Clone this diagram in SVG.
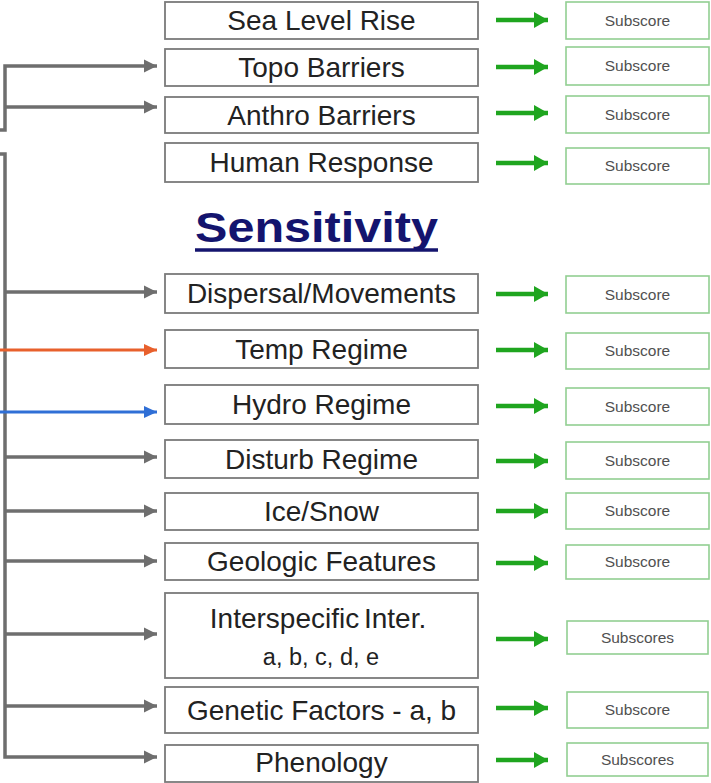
<svg xmlns="http://www.w3.org/2000/svg" width="711" height="783" viewBox="0 0 711 783">
<defs>
<style>
.box{fill:#fff;stroke:#7a7a7a;stroke-width:1.8}
.sbox{fill:#fff;stroke:#92cf92;stroke-width:1.6}
.lbl{font-family:"Liberation Sans",Arial,sans-serif;font-size:28px;fill:#222;text-anchor:middle}
.sm{font-size:23.5px}
.sub{font-family:"Liberation Sans",Arial,sans-serif;font-size:15.5px;fill:#505050;text-anchor:middle}
.g{fill:none;stroke:#6e6e6e;stroke-width:3.5}
.ga{stroke:#1fa51f;stroke-width:4.5;fill:none}
</style>
<marker id="ah" markerUnits="userSpaceOnUse" markerWidth="14" markerHeight="14" refX="13" refY="7" orient="auto"><path d="M0,0.5 L13,7 L0,13.5 Z" fill="#6e6e6e"/></marker>
<marker id="ahO" markerUnits="userSpaceOnUse" markerWidth="14" markerHeight="12" refX="13" refY="6" orient="auto"><path d="M0,0 L13,6 L0,12 Z" fill="#e8602c"/></marker>
<marker id="ahB" markerUnits="userSpaceOnUse" markerWidth="14" markerHeight="12" refX="13" refY="6" orient="auto"><path d="M0,0 L13,6 L0,12 Z" fill="#2f6fd6"/></marker>
<marker id="ahG" markerUnits="userSpaceOnUse" markerWidth="15" markerHeight="16" refX="14" refY="8" orient="auto"><path d="M0,0 L14,8 L0,16 Z" fill="#1fa51f"/></marker>
</defs>

<g id="connectors">
<path class="g" d="M0,130 H5 V66 H157" marker-end="url(#ah)"/>
<path class="g" d="M5,107 H157" marker-end="url(#ah)"/>
<path class="g" d="M0,154 H5 V757 H157" marker-end="url(#ah)"/>
<path class="g" d="M5,292 H157" marker-end="url(#ah)"/>
<path class="g" d="M5,457 H157" marker-end="url(#ah)"/>
<path class="g" d="M5,511 H157" marker-end="url(#ah)"/>
<path class="g" d="M5,561 H157" marker-end="url(#ah)"/>
<path class="g" d="M5,634 H157" marker-end="url(#ah)"/>
<path class="g" d="M5,706 H157" marker-end="url(#ah)"/>
<path d="M0,350 H157" fill="none" stroke="#e8602c" stroke-width="3" marker-end="url(#ahO)"/>
<path d="M0,412 H157" fill="none" stroke="#2f6fd6" stroke-width="3" marker-end="url(#ahB)"/>
<path class="ga" d="M496,20 H548" marker-end="url(#ahG)"/>
<path class="ga" d="M496,67 H548" marker-end="url(#ahG)"/>
<path class="ga" d="M496,113 H548" marker-end="url(#ahG)"/>
<path class="ga" d="M496,163 H548" marker-end="url(#ahG)"/>
<path class="ga" d="M496,294 H548" marker-end="url(#ahG)"/>
<path class="ga" d="M496,350 H548" marker-end="url(#ahG)"/>
<path class="ga" d="M496,406 H548" marker-end="url(#ahG)"/>
<path class="ga" d="M496,461 H548" marker-end="url(#ahG)"/>
<path class="ga" d="M496,511 H548" marker-end="url(#ahG)"/>
<path class="ga" d="M496,563 H548" marker-end="url(#ahG)"/>
<path class="ga" d="M496,639 H548" marker-end="url(#ahG)"/>
<path class="ga" d="M496,708 H548" marker-end="url(#ahG)"/>
<path class="ga" d="M496,760 H548" marker-end="url(#ahG)"/>
</g>

<g id="title">
<text x="316.5" y="242" font-family="'Liberation Sans',Arial,sans-serif" font-weight="bold" font-size="42" fill="#14146e" text-anchor="middle" textLength="243" lengthAdjust="spacingAndGlyphs">Sensitivity</text>
<line x1="195" y1="250" x2="438" y2="250" stroke="#14146e" stroke-width="3.5"/>
</g>

<g id="n-sea"><rect class="box" x="165" y="2" width="313" height="37"/><text class="lbl" x="321.5" y="30">Sea Level Rise</text></g>
<g id="n-topo"><rect class="box" x="165" y="49" width="313" height="37"/><text class="lbl" x="321.5" y="77">Topo Barriers</text></g>
<g id="n-anthro"><rect class="box" x="165" y="97" width="313" height="36"/><text class="lbl" x="321.5" y="125">Anthro Barriers</text></g>
<g id="n-human"><rect class="box" x="165" y="143" width="313" height="39"/><text class="lbl" x="321.5" y="172">Human Response</text></g>
<g id="n-dispersal"><rect class="box" x="165" y="274" width="313" height="39"/><text class="lbl" x="321.5" y="303">Dispersal/Movements</text></g>
<g id="n-temp"><rect class="box" x="165" y="330" width="313" height="38"/><text class="lbl" x="321.5" y="359">Temp Regime</text></g>
<g id="n-hydro"><rect class="box" x="165" y="385" width="313" height="39"/><text class="lbl" x="321.5" y="414">Hydro Regime</text></g>
<g id="n-disturb"><rect class="box" x="165" y="440" width="313" height="38"/><text class="lbl" x="321.5" y="469">Disturb Regime</text></g>
<g id="n-ice"><rect class="box" x="165" y="493" width="313" height="37"/><text class="lbl" x="321.5" y="521">Ice/Snow</text></g>
<g id="n-geo"><rect class="box" x="165" y="543" width="313" height="37"/><text class="lbl" x="321.5" y="571">Geologic Features</text></g>
<g id="n-inter"><rect class="box" x="165" y="593" width="313" height="85"/><text class="lbl" x="318" y="628" word-spacing="-3">Interspecific Inter.</text><text class="lbl sm" x="321" y="665">a, b, c, d, e</text></g>
<g id="n-genetic"><rect class="box" x="165" y="687" width="313" height="46"/><text class="lbl" x="321.5" y="720">Genetic Factors - a, b</text></g>
<g id="n-phen"><rect class="box" x="165" y="745" width="313" height="37"/><text class="lbl" x="321.5" y="772">Phenology</text></g>

<g id="s-sea"><rect class="sbox" x="566" y="2" width="143" height="37"/><text class="sub" x="637.5" y="26">Subscore</text></g>
<g id="s-topo"><rect class="sbox" x="566" y="47" width="143" height="38"/><text class="sub" x="637.5" y="71">Subscore</text></g>
<g id="s-anthro"><rect class="sbox" x="566" y="96" width="143" height="37"/><text class="sub" x="637.5" y="120">Subscore</text></g>
<g id="s-human"><rect class="sbox" x="566" y="148" width="143" height="36"/><text class="sub" x="637.5" y="171">Subscore</text></g>
<g id="s-dispersal"><rect class="sbox" x="566" y="276" width="143" height="37"/><text class="sub" x="637.5" y="300">Subscore</text></g>
<g id="s-temp"><rect class="sbox" x="566" y="333" width="143" height="36"/><text class="sub" x="637.5" y="356">Subscore</text></g>
<g id="s-hydro"><rect class="sbox" x="566" y="388" width="143" height="37"/><text class="sub" x="637.5" y="412">Subscore</text></g>
<g id="s-disturb"><rect class="sbox" x="566" y="442" width="143" height="37"/><text class="sub" x="637.5" y="466">Subscore</text></g>
<g id="s-ice"><rect class="sbox" x="566" y="493" width="143" height="36"/><text class="sub" x="637.5" y="516">Subscore</text></g>
<g id="s-geo"><rect class="sbox" x="566" y="545" width="143" height="34"/><text class="sub" x="637.5" y="567">Subscore</text></g>
<g id="s-inter"><rect class="sbox" x="567" y="621" width="141" height="33"/><text class="sub" x="637.5" y="643">Subscores</text></g>
<g id="s-genetic"><rect class="sbox" x="567" y="692" width="141" height="36"/><text class="sub" x="637.5" y="715">Subscore</text></g>
<g id="s-phen"><rect class="sbox" x="567" y="743" width="141" height="33"/><text class="sub" x="637.5" y="765">Subscores</text></g>
</svg>
